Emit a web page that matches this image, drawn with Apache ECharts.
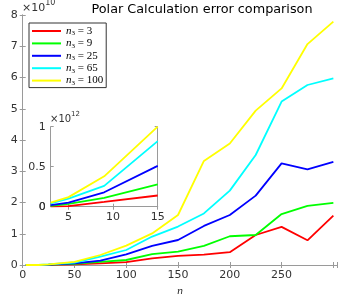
<!DOCTYPE html>
<html><head><meta charset="utf-8">
<script src="https://cdn.jsdelivr.net/npm/echarts@6/dist/echarts.min.js"></script>
<style>html,body{margin:0;padding:0;background:#fff}#c{width:344px;height:294px}</style>
</head><body><div id="c"></div>
<script>
// main chart: n values and errors (units of 1e10)
const nMain = [3, 5, 9, 15, 25, 50, 75, 100, 125, 150, 175, 200, 225, 250, 275, 300];
const err3   = [0, 0, 0, 0, 0.005, 0.02, 0.05, 0.09, 0.21, 0.29, 0.33, 0.41, 0.96, 1.22, 0.79, 1.58];
const err9   = [0, 0, 0, 0, 0.01, 0.04, 0.10, 0.16, 0.35, 0.43, 0.61, 0.92, 0.96, 1.63, 1.89, 1.99];
const err25  = [0, 0, 0, 0, 0.01, 0.05, 0.14, 0.34, 0.61, 0.80, 1.25, 1.60, 2.22, 3.25, 3.06, 3.30];
const err65  = [0, 0, 0, 0, 0.02, 0.08, 0.27, 0.48, 0.91, 1.23, 1.65, 2.38, 3.52, 5.23, 5.76, 5.97];
const err100 = [0, 0, 0, 0, 0.02, 0.10, 0.32, 0.62, 1.01, 1.60, 3.33, 3.89, 4.94, 5.65, 7.07, 7.79];
// inset: n values and errors (units of 1e12)
const nInset = [3, 5, 9, 15];
const ins3   = [0.00, 0.007, 0.06, 0.14];
const ins9   = [0.01, 0.035, 0.11, 0.28];
const ins25  = [0.02, 0.05, 0.18, 0.51];
const ins65  = [0.04, 0.10, 0.26, 0.82];
const ins100 = [0.05, 0.12, 0.38, 1.00];
const n3Values = ['3', '9', '25', '65', '100'];
const colors = ['#ff0000', '#00ff00', '#0000ff', '#00ffff', '#ffff00'];
const mainTicksX = [0, 50, 100, 150, 200, 250];
const insetTicksX = [5, 10, 15];
const insetTicksY = [0, 0.5, 1];

const mainSets = [err3, err9, err25, err65, err100];
const insetSets = [ins3, ins9, ins25, ins65, ins100];

const axCol = '#9a9a9a';
const txtCol = '#333';
const font = 'DejaVu Sans';

function axisBase(extra) {
  return Object.assign({
    type: 'value',
    axisLine: {show: true, lineStyle: {color: axCol, width: 1}},
    axisTick: {show: true, inside: true, length: 3, lineStyle: {color: axCol}},
    splitLine: {show: false},
    axisLabel: {color: txtCol, fontFamily: font, fontSize: 11, margin: 5, hideOverlap: false, showMinLabel: true, showMaxLabel: true}
  }, extra);
}

const series = [];
mainSets.forEach((arr, i) => {
  series.push({
    name: n3Values[i], type: 'line', xAxisIndex: 0, yAxisIndex: 0,
    data: nMain.map((n, k) => [n, arr[k]]),
    showSymbol: false, color: colors[i], lineStyle: {width: 1.8, color: colors[i]}, z: 2
  });
});
insetSets.forEach((arr, i) => {
  series.push({
    name: n3Values[i], type: 'line', xAxisIndex: 2, yAxisIndex: 2,
    data: nInset.map((n, k) => [n, arr[k]]),
    showSymbol: false, color: colors[i], lineStyle: {width: 1.8, color: colors[i]}, z: 12
  });
});

const chart = echarts.init(document.getElementById('c'), null, {renderer: 'canvas'});
chart.setOption({
  animation: false,
  backgroundColor: '#fff',
  title: {
    text: 'Polar Calculation error comparison', left: 197, top: -2, textAlign: 'center',
    textStyle: {fontFamily: font, fontSize: 12.8, fontWeight: 'normal', color: '#000'}
  },
  legend: {
    data: n3Values, orient: 'vertical', left: 29, top: 23, icon: 'rect',
    itemWidth: 29, itemHeight: 2, itemGap: 0.4, padding: [2, 3, 1, 3],
    borderColor: '#333', borderWidth: 1, backgroundColor: '#fff',
    formatter: name => '{i|n}{s|3}{t| = ' + name + '}',
    textStyle: {
      fontFamily: 'Liberation Serif', fontSize: 11, color: '#000', lineHeight: 12,
      rich: {
        i: {fontFamily: 'Liberation Serif', fontStyle: 'italic', fontSize: 11, lineHeight: 12},
        s: {fontFamily: 'Liberation Serif', fontSize: 7, lineHeight: 12, padding: [5, 0, 0, 0]},
        t: {fontFamily: 'Liberation Serif', fontSize: 11, lineHeight: 12}
      }
    }
  },
  grid: [
    {left: 22.7, top: 15, right: 6.5, bottom: 29, containLabel: false, outerBoundsMode: 'none'},
    {left: 50.7, top: 126.7, width: 107, height: 80, containLabel: false, outerBoundsMode: 'none', show: true, backgroundColor: '#fff', borderWidth: 0, z: 10}
  ],
  xAxis: [
    axisBase({gridIndex: 0, position: 'bottom', min: 0, max: 304, interval: 50,
      name: 'n', nameLocation: 'middle', nameGap: 19,
      nameTextStyle: {fontFamily: 'Liberation Serif', fontStyle: 'italic', fontSize: 12, color: '#333'},
      axisLabel: {color: txtCol, fontFamily: font, fontSize: 11, margin: 5,
        formatter: v => mainTicksX.indexOf(v) >= 0 ? String(v) : ''}}),
    axisBase({gridIndex: 0, position: 'top', min: 0, max: 304, interval: 50, axisLabel: {show: false}}),
    axisBase({gridIndex: 1, position: 'bottom', min: 3, max: 15, z: 11,
      axisLabel: {color: txtCol, fontFamily: font, fontSize: 11, margin: 5, customValues: insetTicksX},
      axisTick: {show: true, inside: true, length: 3, lineStyle: {color: axCol}, customValues: insetTicksX}}),
    axisBase({gridIndex: 1, position: 'top', min: 3, max: 15, z: 11,
      axisLabel: {show: false, customValues: insetTicksX},
      axisTick: {show: true, inside: true, length: 3, lineStyle: {color: axCol}, customValues: insetTicksX}})
  ],
  yAxis: [
    axisBase({gridIndex: 0, position: 'left', min: 0, max: 8, interval: 1,
      name: 'error', nameLocation: 'middle', nameGap: 13,
      nameTextStyle: {fontFamily: font, fontSize: 12, color: '#333'}}),
    axisBase({gridIndex: 0, position: 'right', min: 0, max: 8, interval: 1, axisLabel: {show: false}}),
    axisBase({gridIndex: 1, position: 'left', min: 0, max: 1, z: 11,
      axisLabel: {color: txtCol, fontFamily: font, fontSize: 11, margin: 5, customValues: insetTicksY},
      axisTick: {show: true, inside: true, length: 3, lineStyle: {color: axCol}, customValues: insetTicksY}}),
    axisBase({gridIndex: 1, position: 'right', min: 0, max: 1, z: 11,
      axisLabel: {show: false, customValues: insetTicksY},
      axisTick: {show: true, inside: true, length: 3, lineStyle: {color: axCol}, customValues: insetTicksY}})
  ],
  graphic: [
    {type: 'text', left: 22, top: -1, z: 20, style: {
      text: '{a|×10}{b|10}', rich: {
        a: {fontFamily: font, fontSize: 11, fill: '#333', padding: [5, 0, 0, 0]},
        b: {fontFamily: font, fontSize: 8, fill: '#333', padding: [0, 0, 5, 0]}
      }}},
    {type: 'text', left: 50, top: 111, z: 20, style: {
      text: '{a|×10}{b|12}', rich: {
        a: {fontFamily: font, fontSize: 10, fill: '#333', padding: [5, 0, 0, 0]},
        b: {fontFamily: font, fontSize: 7, fill: '#333', padding: [0, 0, 5, 0]}
      }}},
    {type: 'text', z: 20, x: 45.7, y: 206.7, style: {
      text: '0', fontFamily: font, fontSize: 11, fill: txtCol, align: 'right', verticalAlign: 'middle'}}
  ],
  series: series
});
</script></body></html>
